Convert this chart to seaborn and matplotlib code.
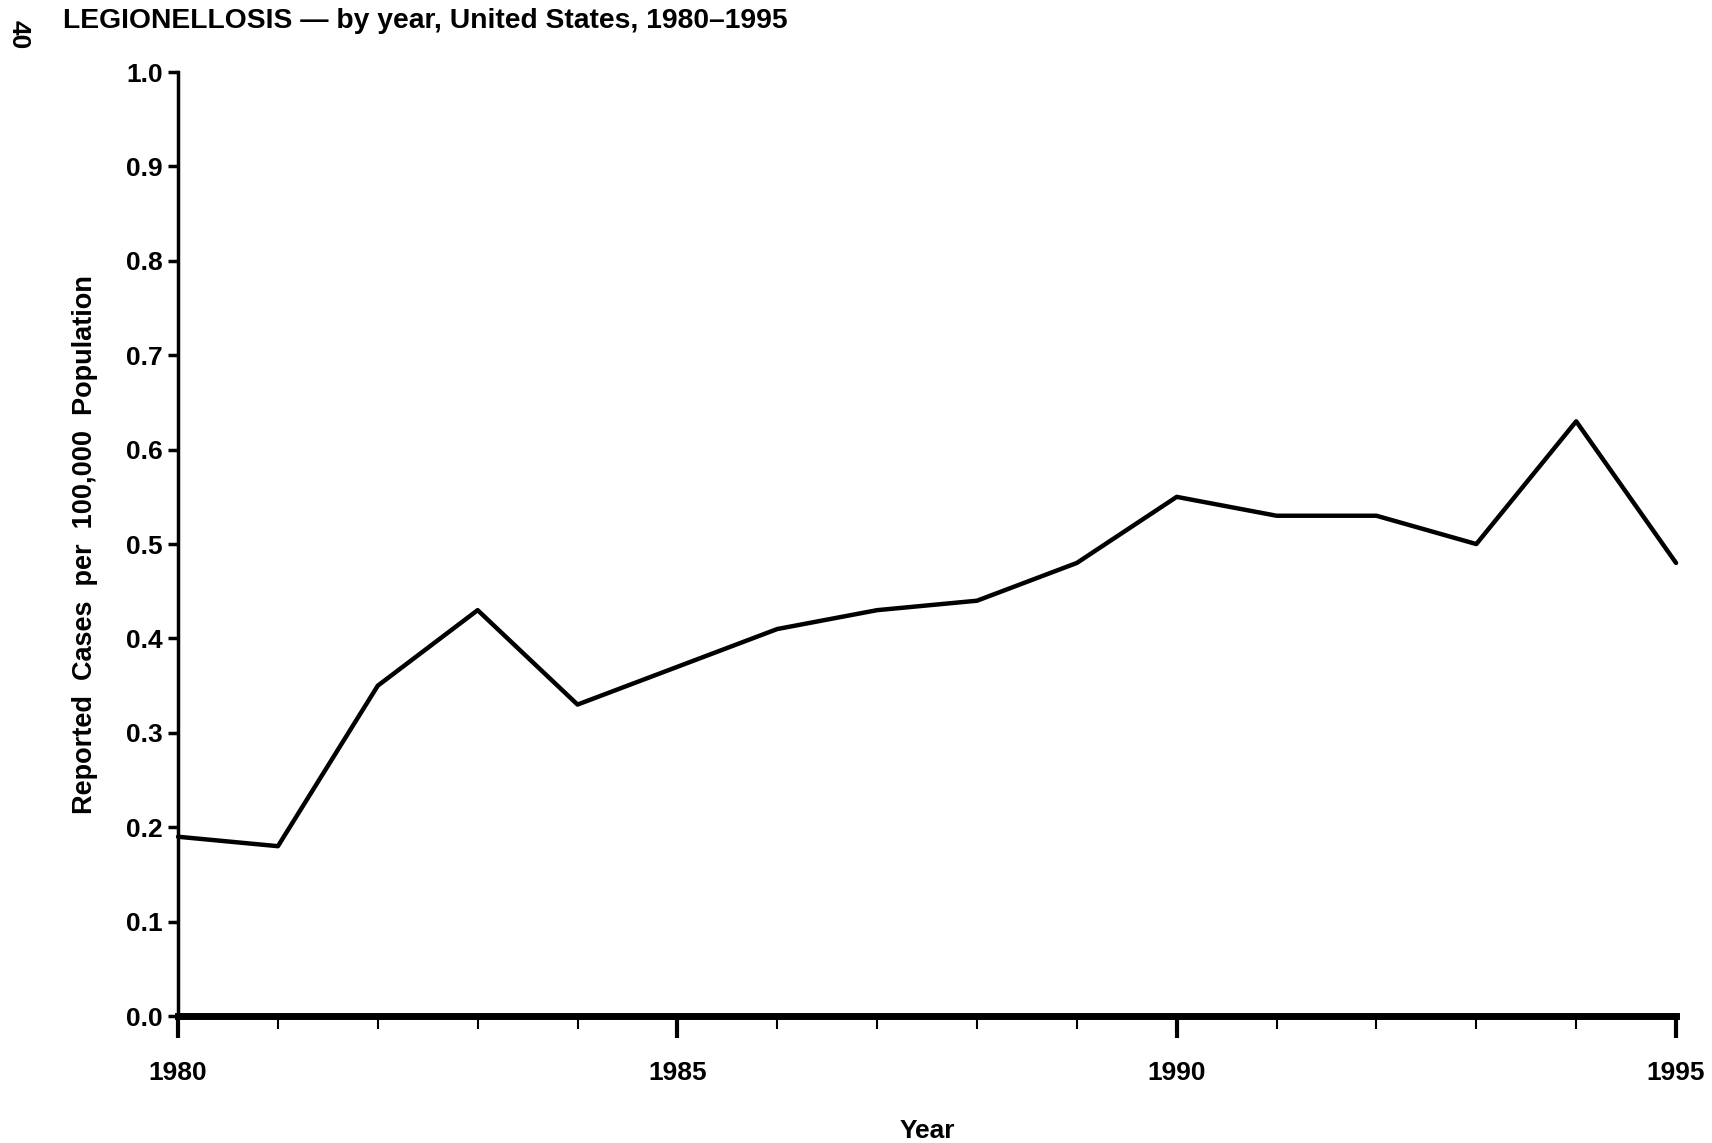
import pandas as pd
import matplotlib
matplotlib.use("Agg")
import matplotlib.pyplot as plt
import seaborn as sns

# data
years = [1980, 1981, 1982, 1983, 1984, 1985, 1986, 1987,
         1988, 1989, 1990, 1991, 1992, 1993, 1994, 1995]
rates = [0.19, 0.18, 0.35, 0.43, 0.33, 0.37, 0.41, 0.43,
         0.44, 0.48, 0.55, 0.53, 0.53, 0.50, 0.63, 0.48]
major_years = [1980, 1985, 1990, 1995]
y_ticks = [0.0, 0.1, 0.2, 0.3, 0.4, 0.5, 0.6, 0.7, 0.8, 0.9, 1.0]

df = pd.DataFrame({"year": years, "rate": rates})

sns.set_style("white", {"text.color": "black", "axes.labelcolor": "black",
                        "xtick.color": "black", "ytick.color": "black"})
plt.rcParams['font.family'] = ['Liberation Sans', 'DejaVu Sans']

fig = plt.figure(figsize=(17.12, 11.43), dpi=100)
ax = fig.add_axes([0.104, 0.111, 0.875, 0.826])

sns.lineplot(data=df, x="year", y="rate", ax=ax, color="black", linewidth=3.2)
for ln in ax.lines:
    ln.set_clip_on(False)

ax.set_xlim(1980, 1995)
ax.set_ylim(0, 1.0)
ax.set_yticks(y_ticks)
ax.set_yticklabels(["%.1f" % v for v in y_ticks], fontsize=19, fontweight="bold")
ax.set_xticks(major_years)
ax.set_xticklabels([str(y) for y in major_years], fontsize=19, fontweight="bold")
ax.set_xticks(years, minor=True)
ax.tick_params(axis="x", which="both", bottom=True, colors="black")
ax.tick_params(axis="x", which="major", direction="out", length=16, width=3, pad=16)
ax.tick_params(axis="x", which="minor", direction="out", length=9, width=1.5)
ax.tick_params(axis="y", which="major", left=True, direction="out", length=7,
               width=2.5, pad=4, colors="black")

for side in ["top", "right"]:
    ax.spines[side].set_visible(False)
ax.spines["left"].set_linewidth(2.5)
ax.spines["bottom"].set_linewidth(5)
ax.spines["left"].set_color("black")
ax.spines["bottom"].set_color("black")

ax.set_xlabel("Year", fontsize=19, fontweight="bold", labelpad=25, color="black")
ax.set_ylabel("Reported  Cases  per  100,000  Population", fontsize=19.5,
              fontweight="bold", labelpad=20, color="black")

fig.text(0.037, 0.982, "LEGIONELLOSIS \u2014 by year, United States, 1980\u20131995",
         fontsize=20.3, fontweight="bold", ha="left", va="center", color="black")
fig.text(0.011, 0.970, "40", fontsize=19, fontweight="bold", rotation=-90,
         ha="center", va="center", color="black")

fig.savefig("out.png", dpi=100)
